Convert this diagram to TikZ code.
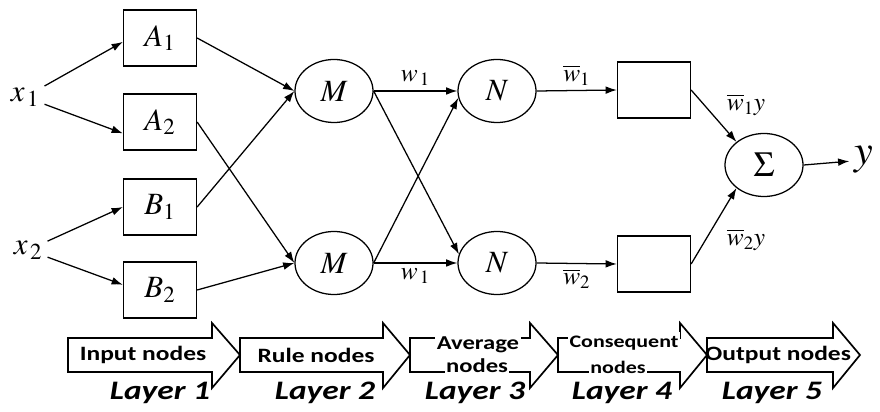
\documentclass[tikz,border=0pt]{standalone}
\usepackage{mathptmx}
\usepackage{fontspec}
\newfontfamily\calib[FakeStretch=1.25]{Carlito}
\usetikzlibrary{arrows.meta,shapes.geometric}

\begin{document}
\begin{tikzpicture}[x=0.025cm,y=-0.025cm,line width=0.9pt,>={Latex[length=8pt,width=5.5pt]},
	inbox/.style={rectangle, draw, minimum width=1.825cm, minimum height=1.4cm, font=\fontsize{22}{26}\selectfont},
	oval/.style={ellipse, draw, minimum width=1.95cm, minimum height=1.575cm, inner sep=0pt, font=\fontsize{22}{26}\selectfont},
	var/.style={font=\fontsize{22}{26}\selectfont},
	wlbl/.style={font=\fontsize{18}{21}\selectfont},
	blk/.style={draw, line width=1.2pt, line join=miter},
	incap/.style={font=\calib\bfseries\fontsize{14.5}{17}\selectfont},
	cover/.style={fill=white, inner xsep=1pt, inner ysep=3pt},
	layer/.style={font=\calib\bfseries\itshape\fontsize{19}{22}\selectfont}]
	\useasboundingbox (0,0) rectangle (880,412);
	% inputs and layer 1
	\node (x1) at ( 25,  97)	[var]	{$x_{\,1}$};
	\node (x2) at ( 28, 250)	[var]	{$x_{\,2}$};
	\node (A1) at (160,  38)	[inbox]	{$A_1$};
	\node (A2) at (160, 122)	[inbox]	{$A_2$};
	\node (B1) at (160, 207)	[inbox]	{$B_1$};
	\node (B2) at (160, 290)	[inbox]	{$B_2$};
	% layers 2 to 5
	\node (M1) at (334,  91)	[oval]	{$M$};
	\node (M2) at (334, 263)	[oval]	{$M$};
	\node (N1) at (497,  91)	[oval]	{$N$};
	\node (N2) at (497, 263)	[oval]	{$N$};
	\node (R1) at (654,  90)	[inbox]	{};
	\node (R2) at (654, 264)	[inbox]	{};
	\node (S)  at (764, 165)	[oval]	{\fontsize{25}{29}\selectfont$\Sigma$};
	\node (y)  at (864, 160)	[var]	{\fontsize{30}{34}\selectfont$y$};
	\draw[->] (x1) -- (A1.186);
	\draw[->] (x1) -- (A2.197);
	\draw[->] (x2) -- (B1.west);
	\draw[->] (x2) -- (B2.172);
	\draw[->] (A1.east) -- (M1.west);
	\draw[->] (B1.east) -- (M1.west);
	\draw[->] (A2.east) -- (M2.west);
	\draw[->] (B2.east) -- (M2.west);
	\draw[->] (M1.east) -- node[wlbl, above] {$w_{\,1}$} (N1.west);
	\draw[->] (M1.east) -- (N2.167);
	\draw[->] (M2.east) -- (N1.190);
	\draw[->] (M2.east) -- node[wlbl, below] {$w_{\,1}$} (N2.west);
	\draw[->] (N1.east) -- node[wlbl, above] {$\overline{w}_1$} (R1.west);
	\draw[->] (N2.east) -- node[wlbl, below] {$\overline{w}_2$} (R2.west);
	\draw[->] (R1.east) -- (S.140);
	\draw[->] (R2.east) -- (S.220);
	\draw[->] (S.east) -- (y);
	\node (p1) at (746, 105)	[wlbl]	{$\overline{w}_1 y$};
	\node (p2) at (746, 240)	[wlbl]	{$\overline{w}_2 y$};
	% layer arrows
	\draw[blk] ( 68,338) -- (212,338) -- (212,323) -- (240,355) -- (212,388) -- (212,372) -- ( 68,372) -- cycle;
	\draw[blk] (240,338) -- (383,338) -- (383,323) -- (410,355) -- (383,388) -- (383,372) -- (240,372) -- cycle;
	\draw[blk] (410,338) -- (530,338) -- (530,323) -- (558,355) -- (530,388) -- (530,372) -- (410,372) -- cycle;
	\draw[blk] (558,338) -- (680,338) -- (680,323) -- (707,355) -- (680,388) -- (680,372) -- (558,372) -- cycle;
	\draw[blk] (707,338) -- (833,338) -- (833,323) -- (860,355) -- (833,388) -- (833,372) -- (707,372) -- cycle;
	\node (t1)  at (143, 355)	[incap]	{Input nodes};
	\node (t2)  at (316, 355)	[incap]	{Rule nodes};
	\node (t3a) at (478, 345)	[incap, cover, font=\calib\bfseries\fontsize{14}{16}\selectfont]	{Average};
	\node (t3b) at (477, 366)	[incap, cover, font=\calib\bfseries\fontsize{14}{16}\selectfont]	{nodes};
	\node (t4a) at (624, 343)	[incap, cover, font=\calib\bfseries\fontsize{12.5}{15}\selectfont]	{Consequent};
	\node (t4b) at (618, 367)	[incap, cover, font=\calib\bfseries\fontsize{12.5}{15}\selectfont]	{nodes};
	\node (t5)  at (778, 355)	[incap]	{Output nodes};
	\node (L1) at (160, 393)	[layer]	{Layer 1};
	\node (L2) at (325, 393)	[layer]	{Layer 2};
	\node (L3) at (475, 393)	[layer]	{Layer 3};
	\node (L4) at (622, 393)	[layer]	{Layer 4};
	\node (L5) at (772, 393)	[layer]	{Layer 5};
\end{tikzpicture}
\end{document}
